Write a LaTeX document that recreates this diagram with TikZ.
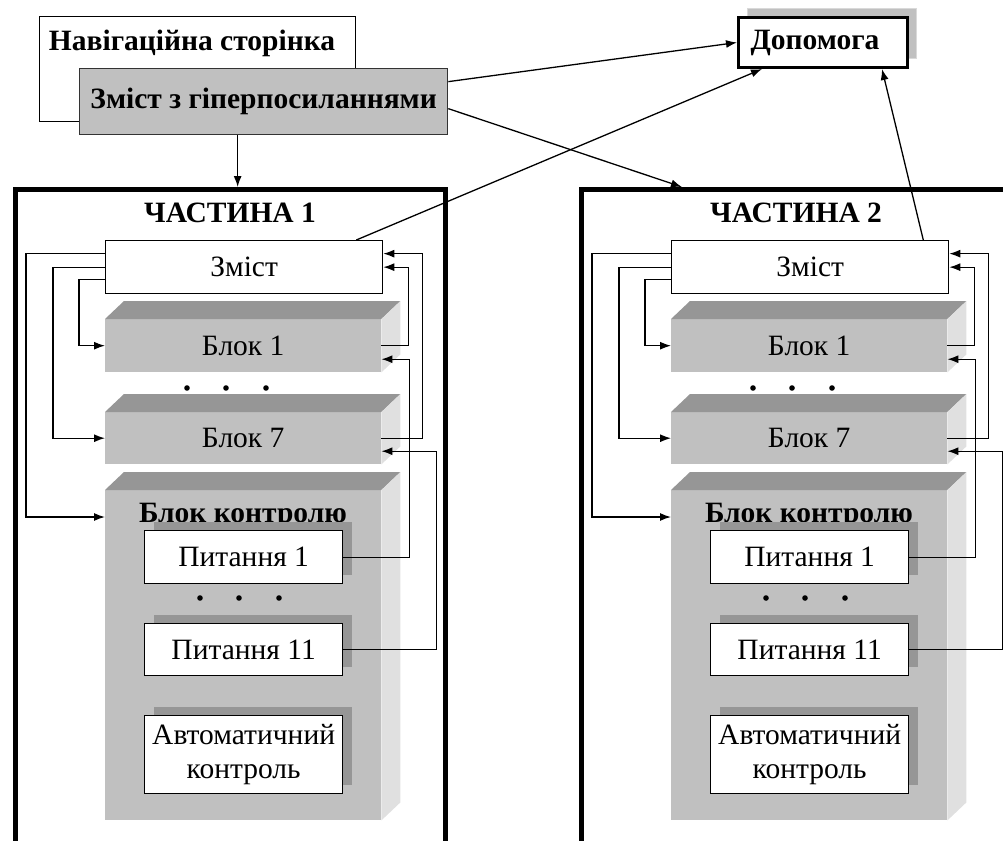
\documentclass[tikz,border=0pt]{standalone}
\usepackage{fontspec}
\setmainfont{Liberation Serif}
\usetikzlibrary{arrows.meta,calc,shadows}
\definecolor{facegray}{HTML}{C0C0C0}
\definecolor{topgray}{HTML}{969696}
\definecolor{sidegray}{HTML}{E0E0E0}
\definecolor{shadegray}{HTML}{969696}
\begin{document}
\begin{tikzpicture}[x=1pt,y=-1pt,
  font=\fontsize{29.5}{34}\selectfont,
  thinline/.style={line width=1.3pt},
  arr/.style={thinline,-{Latex[length=11pt,width=8pt]}},
  boldtext/.style={font=\fontsize{29.5}{34}\selectfont\bfseries, inner sep=0pt},
  frame/.style={draw, line width=4.5pt, minimum width=430pt, minimum height=700pt,
    anchor=north west, inner sep=0pt},
  face/.style={fill=facegray, minimum width=276pt, anchor=north west, inner sep=0pt},
  whitebox/.style={draw, fill=white, thinline, inner sep=0pt, anchor=north west},
  qbox/.style={whitebox, minimum width=198pt,
    drop shadow={shadow xshift=9pt, shadow yshift=9pt, opacity=1, fill=shadegray}},
  dot/.style={fill=black}
]
\useasboundingbox (0,0) rectangle (1003,840);
\clip (0,0) rectangle (1003,840);

% navigation page and its table of contents
\node[whitebox, minimum width=316pt, minimum height=105pt] (nav) at (39,16) {};
\node[boldtext] (navt) at (192,43) {Навігаційна сторінка};
\node[draw=black!80, fill=facegray, thinline, minimum width=368pt, minimum height=66pt,
  anchor=north west, inner sep=0pt, font=\fontsize{29.5}{34}\selectfont\bfseries]
  (zg) at (79,68) {Зміст з гіперпосиланнями};

% help page
\node[draw, line width=3pt, fill=white, minimum width=169pt, minimum height=50pt,
  anchor=north west, inner sep=0pt,
  drop shadow={shadow xshift=9pt, shadow yshift=9pt, opacity=1, fill=facegray,
    draw=black!15, line width=1pt}] (dop) at (737,16) {};
\node[boldtext] (dopt) at (815,43) {Допомога};

% the two parts
\foreach \i/\dx in {1/0,2/566}{
\begin{scope}[xshift=\dx]
  \node[frame] (part\i) at (13,187) {};
  \node[boldtext] (title\i) at (230,213) {ЧАСТИНА \i};
  \node[whitebox, minimum width=277pt, minimum height=53pt] (zm-\i) at (105,240) {Зміст};
  \node[face, minimum height=53pt] (bl1-\i) at (105,319) {Блок 1};
  \node[face, minimum height=52pt] (bl7-\i) at (105,412) {Блок 7};
  \node[face, minimum height=330pt] (bk-\i) at (105,490) {};
  \foreach \n in {bl1-\i,bl7-\i,bk-\i}{
    \fill[topgray] (\n.north west) -- ++(19,-18) -- ([shift={(19,-18)}]\n.north east)
      -- (\n.north east) -- cycle;
    \fill[sidegray] (\n.north east) -- ++(19,-18) -- ([shift={(19,-18)}]\n.south east)
      -- (\n.south east) -- cycle;
  }
  \foreach \xx in {187,226,266} \fill[dot] (\xx,388) circle[radius=2.8pt];
  \node[boldtext] (bkt-\i) at (243,516) {Блок контролю};
  \node[qbox, minimum height=53pt] (q1-\i) at (144,530) {Питання 1};
  \foreach \xx in {200,239,279} \fill[dot] (\xx,598) circle[radius=2.8pt];
  \node[qbox, minimum height=52pt] (q11-\i) at (144,623) {Питання 11};
  \node[qbox, minimum height=78pt, align=center] (ak-\i) at (144,715)
    {Автоматичний\\контроль};

  % links from the contents to the blocks
  \draw[arr] ([yshift=13.5pt]zm-\i.west) -- ++(-79,0) |- ([yshift=-27pt]bk-\i.north west);
  \draw[arr] (zm-\i.west) -- ++(-52,0) |- (bl7-\i.west);
  \draw[arr] ([yshift=-12.5pt]zm-\i.west) -- ++(-26,0) |- (bl1-\i.west);
  % links back
  \draw[arr] (bl7-\i.east) -- ++(41,0) |- ([yshift=13.5pt]zm-\i.east);
  \draw[arr] (bl1-\i.east) -- ++(27,0) |- (zm-\i.east);
  \draw[arr] (q1-\i.east) -- ++(66,0) |- ([yshift=-13.5pt]bl1-\i.east);
  \draw[arr] (q11-\i.east) -- ++(93,0) |- ([yshift=-13pt]bl7-\i.east);
\end{scope}
}

% links between the pages
\draw[arr] ([xshift=-26pt]zg.south) -- ([xshift=-26pt]zg.south |- part1.north);
\draw[arr] ([yshift=20pt]zg.east) -- (dop.west);
\draw[arr] ([yshift=-7pt]zg.east) -- ([xshift=103pt]part2.north west);
\draw[arr] ([xshift=-27pt]zm-1.north east) -- ([xshift=25pt]dop.south west);
\draw[arr] ([xshift=-26pt]zm-2.north east) -- ([xshift=-27pt]dop.south east);
\end{tikzpicture}
\end{document}
